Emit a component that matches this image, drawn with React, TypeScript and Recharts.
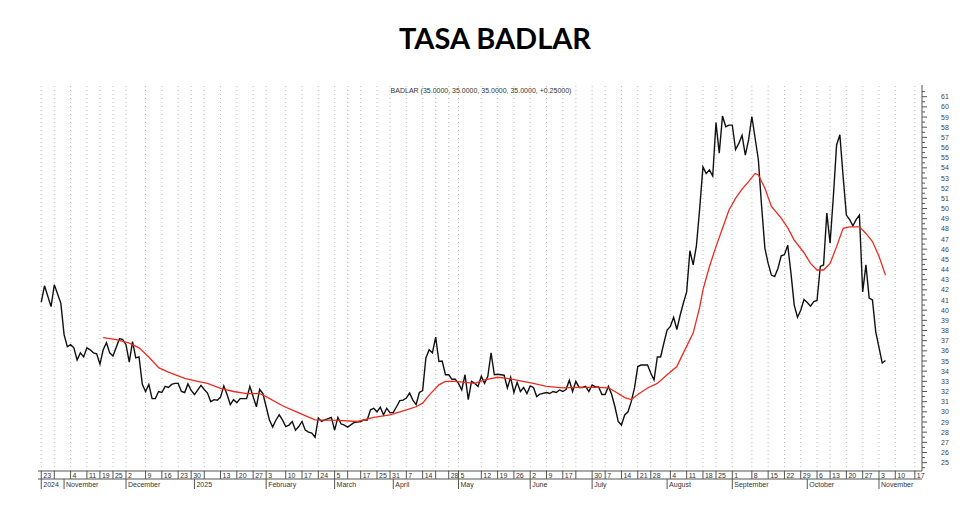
import React from 'react';
import { ComposedChart, Line, XAxis, YAxis, ReferenceLine } from 'recharts';

// x = trading-day index counted from 23 Oct 2024
const badlarDays = [
  0, 1, 3, 4, 6, 7, 8, 9, 10, 11, 12, 13, 14, 15, 16, 17, 18, 19, 20, 21, 22, 24, 25, 26, 27, 28, 29, 30,
  31, 32, 33, 34, 35, 36, 37, 38, 39, 40, 41, 42, 43, 44, 45, 46, 47, 49, 50, 51, 52, 53, 54, 55, 56, 57,
  58, 59, 60, 61, 62, 63, 64, 66, 67, 68, 69, 70, 71, 72, 73, 74, 75, 76, 77, 78, 79, 80, 81, 82, 83, 84,
  85, 86, 87, 89, 90, 91, 92, 93, 94, 96, 98, 99, 100, 101, 102, 103, 104, 105, 106, 107, 108, 109, 110,
  111, 112, 113, 114, 115, 116, 117, 118, 119, 120, 121, 122, 123, 124, 125, 126, 127, 128, 129, 130, 131,
  132, 133, 134, 135, 136, 137, 138, 139, 140, 142, 143, 144, 145, 146, 147, 148, 149, 150, 151, 152, 153,
  155, 156, 157, 158, 159, 160, 161, 162, 163, 164, 165, 166, 167, 168, 169, 170, 171, 172, 173, 174, 175,
  176, 177, 178, 179, 180, 181, 182, 183, 184, 186, 187, 188, 189, 190, 191, 192, 193, 194, 195, 196, 197,
  198, 199, 200, 201, 202, 203, 204, 205, 206, 207, 208, 209, 210, 211, 212, 213, 214, 215, 216, 217, 218,
  220, 221, 222, 223, 224, 225, 226, 227, 228, 229, 230, 231, 232, 233, 234, 235, 236, 237, 238, 239, 240,
  241, 242, 243, 244, 245, 246, 247, 248, 249, 250, 251, 252, 253, 254, 255, 256, 258, 259,
];
const badlarRates = [
  40.8, 42.4, 40.35, 42.5, 40.7, 37.6, 36.4, 36.6, 36.3, 35.1, 35.8, 35.4, 36.3, 36.1, 35.8, 35.7, 34.7, 36.1, 36.8, 35.8, 35.5, 37.2, 37.1, 36.6, 34.9, 36.9, 35.3, 35.4,
  32.7, 32.0, 32.7, 31.3, 31.3, 32.0, 31.9, 32.5, 32.4, 32.7, 32.8, 32.8, 32.0, 31.9, 32.75, 32.1, 31.7, 32.6, 32.2, 31.85, 31.0, 31.2, 31.15, 31.45, 32.55, 31.7,
  30.7, 31.2, 30.9, 31.3, 31.3, 31.3, 32.5, 30.5, 32.2, 31.8, 30.5, 29.2, 28.5, 29.2, 29.7, 29.2, 28.55, 28.7, 29.05, 28.2, 28.55, 29.05, 28.2, 28.0, 27.9, 27.5,
  29.4, 29.05, 29.2, 29.45, 28.2, 29.45, 28.8, 28.7, 28.5, 28.95, 29.05, 29.2, 29.2, 30.2, 30.35, 30.0, 30.45, 29.7, 30.35, 29.9, 29.95, 30.5, 31.1,
  31.15, 31.35, 31.85, 31.15, 30.7, 31.9, 32.1, 35.3, 36.1, 35.8, 37.35, 34.95, 35.0, 33.65, 33.65, 33.2, 33.2, 32.8, 32.15, 33.65, 31.2,
  33.0, 32.8, 32.5, 33.5, 32.8, 33.5, 35.8, 33.65, 33.7, 33.6, 32.35, 33.4, 31.9, 32.9, 32.0, 32.4, 31.8, 32.55, 32.4, 31.5, 31.75,
  31.9, 31.8, 32.0, 31.9, 32.15, 32.0, 32.2, 33.1, 32.0, 33.0, 32.4, 32.4, 32.5, 32.0, 32.65, 32.45, 32.45, 31.7, 31.7, 32.5, 31.7,
  30.5, 29.05, 28.7, 29.7, 30.0, 31.0, 32.35, 34.45, 34.6, 34.6, 33.8, 33.15, 35.4, 35.4, 36.75, 38.05, 38.4, 39.3, 38.1, 39.5, 40.7,
  41.8, 45.85, 44.45, 46.35, 50.0, 54.1, 53.45, 53.8, 53.2, 58.45, 55.45, 59.1, 58.05, 58.2, 58.2, 55.8, 56.4, 57.2, 55.25, 56.75, 59.05,
  54.8, 50.2, 46.1, 44.6, 43.45, 43.3, 44.1, 45.35, 45.45, 46.4, 43.65, 40.5, 39.3, 40.0, 41.05, 40.75, 40.4, 40.85, 40.95, 44.3, 44.45,
  49.55, 46.6, 51.15, 56.25, 57.25, 53.15, 49.35, 48.9, 48.3, 48.9, 49.35, 41.8, 44.45, 41.2, 41.0, 37.9, 34.8, 35.05,
];

const smaDays = [
  19, 23, 27, 30, 33, 36, 39, 44, 48, 51, 55, 59, 63, 67, 69, 74, 79, 84, 91, 97, 102, 107, 112, 115, 117,
  119, 122, 124, 127, 130, 133, 136, 140, 143, 147, 151, 155, 160, 165, 170, 174, 176, 179, 181, 183, 186,
  189, 192, 195, 197, 200, 202, 203, 205, 207, 209, 211, 213, 215, 217, 219, 220, 222, 224, 227, 229, 231,
  234, 236, 238, 240, 242, 244, 246, 248, 251, 253, 255, 257, 259,
];
const smaRates = [
  37.3, 37.1, 36.75, 36.3, 35.4, 34.35, 33.9, 33.3, 33.0, 32.8, 32.3, 32.0, 31.8, 31.8, 31.5, 30.6, 29.9, 29.2, 29.15, 29.05, 29.45, 29.7, 30.2, 30.5, 30.85,
  31.65, 32.65, 33.0, 33.0, 32.9, 32.8, 33.15, 33.4, 33.3, 33.05, 32.8, 32.5, 32.35, 32.4, 32.4, 32.35, 32.0, 31.4, 31.2, 31.7, 32.35,
  32.8, 33.65, 34.45, 35.8, 37.75, 40.3, 42.0, 44.3, 46.25, 48.05, 49.85, 51.0, 51.9, 52.65, 53.45, 53.3, 52.0, 50.2, 49.05, 48.1, 46.9,
  45.65, 44.6, 43.95, 43.95, 44.6, 46.25, 48.05, 48.2, 48.2, 47.55, 46.75, 45.3, 43.45,
];

const weekTickDays = [
  0, 4, 9, 14, 18, 22, 26, 32, 37, 42, 46, 50, 55, 60, 65, 69, 75, 80, 85, 90, 94, 98, 103, 107, 112, 117, 121,
  125, 128, 135, 140, 145, 150, 155, 160, 164, 169, 173, 178, 183, 187, 193, 198, 203, 207, 212, 218, 223, 228,
  233, 238, 242, 247, 252, 257, 262, 268,
];
const weekTickLabels = [
  '23', '', '4', '11', '19', '25', '2', '9', '16', '23', '30', '', '13', '20', '27', '3', '10', '17', '24', '5', '', '17', '25', '31', '7', '14', '',
  '28', '5', '12', '19', '26', '2', '9', '17', '', '30', '7', '14', '21', '28', '4', '11', '18', '25', '1', '8', '15', '22',
  '29', '6', '13', '20', '27', '3', '10', '17',
];
const monthTickDays = [0, 7, 26, 47, 69, 90, 108, 128, 150, 169, 192, 212, 235, 257];
const monthTickLabels = [
  '2024', 'November', 'December', '2025', 'February', 'March', 'April', 'May', 'June', 'July', 'August',
  'September', 'October', 'November',
];
const rateLabels = [
  25, 26, 27, 28, 29, 30, 31, 32, 33, 34, 35, 36, 37, 38, 39, 40, 41, 42, 43, 44, 45, 46, 47, 48, 49, 50, 51,
  52, 53, 54, 55, 56, 57, 58, 59, 60, 61,
];

const badlarData = badlarDays.map((day, i) => ({ day, rate: badlarRates[i] }));
const smaData = smaDays.map((day, i) => ({ day, rate: smaRates[i] }));
const rateTicks = [24.5, ...rateLabels.flatMap((v) => [v, v + 0.5])];

const font = 'Liberation Sans, Arial, sans-serif';

const WeekTick = (props: any) => {
  const { x, y, payload } = props;
  const label = weekTickLabels[weekTickDays.indexOf(payload.value)];
  return (
    <g>
      <line x1={x} x2={x} y1={y} y2={y + 8} stroke="#555" strokeWidth={1} />
      <text x={x + 2} y={y + 6.5} fontSize={7} fontFamily={font} fill="#333">
        {label}
      </text>
    </g>
  );
};

const MonthTick = (props: any) => {
  const { x, y, payload } = props;
  const label = monthTickLabels[monthTickDays.indexOf(payload.value)];
  return (
    <g>
      <line x1={x} x2={x} y1={y} y2={y + 10} stroke="#555" strokeWidth={1} />
      <text x={x + 2} y={y + 8} fontSize={7} fontFamily={font} fill="#333">
        {label}
      </text>
    </g>
  );
};

const RateTick = (props: any) => {
  const { x, y, payload } = props;
  const v = payload.value;
  const major = Number.isInteger(v);
  return (
    <g>
      <line x1={x} x2={x + (major ? 5 : 3)} y1={y} y2={y} stroke="#555" strokeWidth={1} />
      {major && (
        <text x={x + 23} y={y + 2.5} textAnchor="middle" fontSize={7} fontFamily={font} fill="#444">
          {v}
        </text>
      )}
    </g>
  );
};

export default function App() {
  return (
    <div style={{ position: 'absolute', left: 0, top: 0, width: 980, height: 507, background: '#fff' }}>
      <svg width={980} height={507} style={{ position: 'absolute', left: 0, top: 0 }}>
        <text x={495} y={49} textAnchor="middle" fontSize={29} fontWeight={700} fontFamily="Lato, sans-serif" fill="#000">
          TASA BADLAR
        </text>
        <text x={481} y={93} textAnchor="middle" fontSize={7} fontFamily={font} fill="#333">
          BADLAR (35.0000, 35.0000, 35.0000, 35.0000, +0.25000)
        </text>
      </svg>
      <div style={{ position: 'absolute', left: 0, top: 0 }}>
        <ComposedChart width={980} height={507} margin={{ top: 85, right: 0, bottom: 16, left: 38 }}>
          <XAxis
            dataKey="day"
            type="number"
            domain={[-1, 270.2]}
            ticks={weekTickDays}
            interval={0}
            height={8}
            tickSize={0}
            tickMargin={0}
            tickLine={false}
            axisLine={{ stroke: '#555' }}
            tick={<WeekTick />}
            allowDataOverflow
          />
          <XAxis
            xAxisId="months"
            dataKey="day"
            type="number"
            domain={[-1, 270.2]}
            ticks={monthTickDays}
            interval={0}
            height={12}
            tickSize={0}
            tickMargin={0}
            tickLine={false}
            axisLine={{ stroke: '#555' }}
            tick={<MonthTick />}
            allowDataOverflow
          />
          <YAxis
            orientation="right"
            type="number"
            domain={[24.18, 62.15]}
            ticks={rateTicks}
            interval={0}
            width={58}
            tickSize={0}
            tickMargin={0}
            tickLine={false}
            axisLine={{ stroke: '#555' }}
            tick={<RateTick />}
            allowDataOverflow
          />
          {weekTickDays.map((d) => (
            <ReferenceLine key={d} x={d} stroke="#bdbdbd" strokeWidth={1} strokeDasharray="1 3" />
          ))}
          <Line
            data={badlarData}
            dataKey="rate"
            type="linear"
            stroke="#111"
            strokeWidth={1.4}
            dot={false}
            activeDot={false}
            isAnimationActive={false}
          />
          <Line
            data={smaData}
            dataKey="rate"
            type="linear"
            stroke="#ee2a1e"
            strokeWidth={1.3}
            dot={false}
            activeDot={false}
            isAnimationActive={false}
          />
        </ComposedChart>
      </div>
    </div>
  );
}
